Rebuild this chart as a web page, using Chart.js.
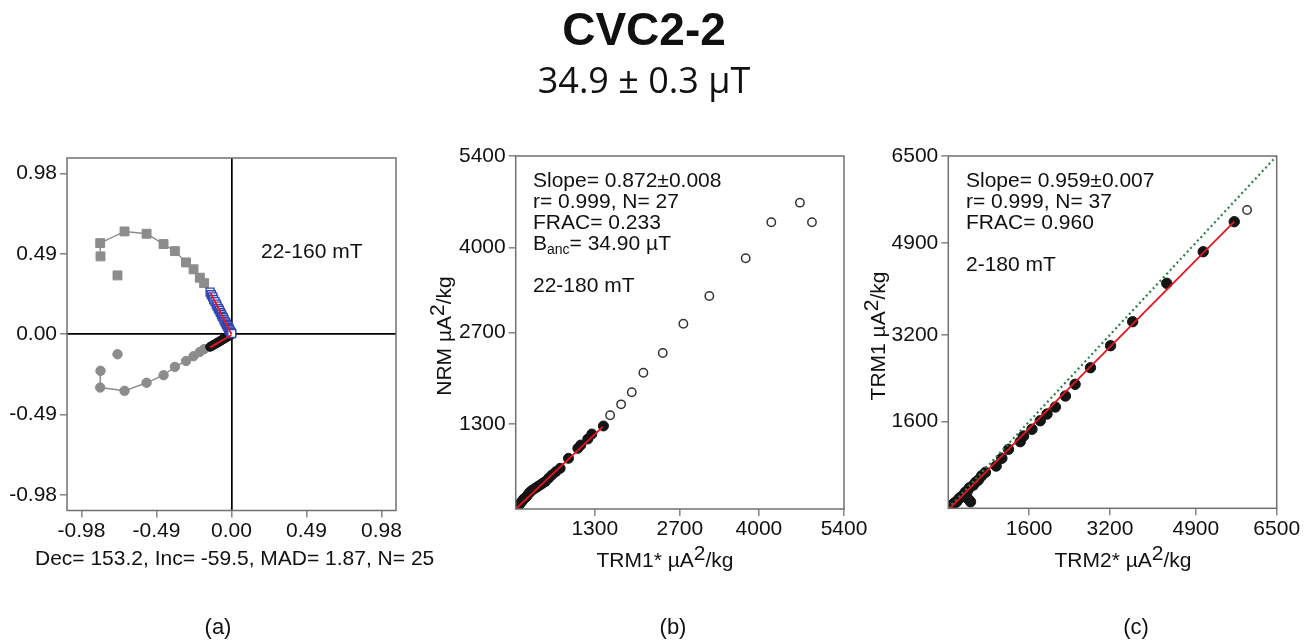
<!DOCTYPE html>
<html><head><meta charset="utf-8">
<script src="https://cdn.jsdelivr.net/npm/chart.js@4.4.1/dist/chart.umd.min.js"></script>
<style>
html,body{margin:0;padding:0;background:#fff;width:1308px;height:642px;overflow:hidden;}
canvas{position:absolute;left:0;top:0;}
</style></head><body>
<canvas id="ca" width="1308" height="642"></canvas>
<canvas id="cb" width="1308" height="642"></canvas>
<canvas id="cc" width="1308" height="642"></canvas>
<script>
// ---------- DATA ----------
// (a) Zijderveld: excluded steps (NRM first), then selected steps 22-160 mT
const exclX = [-0.745, -0.856, -0.858, -0.699, -0.555, -0.444, -0.370, -0.297, -0.248, -0.207, -0.179];
const exclH = [0.359, 0.475, 0.556, 0.627, 0.613, 0.550, 0.507, 0.438, 0.396, 0.345, 0.312];
const exclV = [-0.122, -0.223, -0.325, -0.345, -0.296, -0.250, -0.199, -0.163, -0.134, -0.108, -0.091];
const selX = [-0.140,-0.132,-0.123,-0.117,-0.108,-0.100,-0.094,-0.086,-0.079,-0.073,-0.066,-0.061,-0.054,-0.049,-0.043,-0.037,-0.032,-0.028,-0.022,-0.018,-0.014,-0.010,-0.006,-0.003,0.002];
const selH = [0.257,0.241,0.228,0.212,0.199,0.184,0.172,0.158,0.147,0.133,0.122,0.110,0.101,0.089,0.079,0.069,0.060,0.052,0.043,0.035,0.029,0.021,0.015,0.009,0.004];
const selV = [-0.077,-0.073,-0.068,-0.065,-0.060,-0.056,-0.052,-0.049,-0.044,-0.041,-0.037,-0.034,-0.030,-0.027,-0.024,-0.021,-0.018,-0.015,-0.012,-0.010,-0.008,-0.006,-0.004,-0.002,0.000];
const fitHX = [-0.137, 0.0], fitHY = [0.252, 0.0];
const fitVX = [-0.140, 0.0], fitVY = [-0.080, -0.005];
const zTicks = [-0.98, -0.49, 0, 0.49, 0.98];

// (b) NRM vs TRM1*
const bInX = [8, 22, 40, 58, 80, 105, 128, 155, 185, 212, 240, 275, 320, 360, 403, 445, 485, 540, 595, 660, 731, 868, 1022, 1071, 1186, 1252, 1443];
const bInY = [12, 30, 50, 66, 92, 118, 150, 170, 200, 232, 262, 290, 317, 342, 367, 395, 418, 470, 520, 570, 622, 775, 928, 979, 1071, 1147, 1270];
const bOutX = [1553, 1734, 1909, 2100, 2419, 2758, 3185, 3783, 4204, 4675, 4873];
const bOutY = [1433, 1601, 1785, 2085, 2386, 2835, 3258, 3835, 4386, 4686, 4386];
const bFitX = [0, 1430], bFitY = [0, 1255];
const bTicks = [1300, 2700, 4000, 5400];

// (c) TRM1 vs TRM2*
const cInX = [25, 45, 70, 110, 140, 167, 200, 235, 266, 300, 340, 371, 400, 420, 440, 497, 540, 596, 660, 735, 947, 1060, 1192, 1424, 1490, 1656, 1821, 1954, 2119, 2318, 2510, 2814, 3212, 3649, 4324, 5045, 5660];
const cInY = [15, 30, 55, 90, 110, 122, 165, 200, 214, 250, 300, 306, 165, 380, 120, 430, 480, 522, 600, 664, 780, 923, 1089, 1229, 1334, 1458, 1616, 1740, 1869, 2072, 2288, 2594, 3000, 3443, 4151, 4734, 5288];
const cOutX = [5913], cOutY = [5504];
const cFitX = [0, 5660], cFitY = [-30, 5290];
const cOneX = [0, 6500], cOneY = [0, 6500];
const cTicks = [1600, 3200, 4900, 6500];

// ---------- HELPERS ----------
const W = 1308, H = 642;
const FONT = "'Liberation Sans', Arial, sans-serif";
const pts = (xs, ys) => xs.map((x, i) => ({x, y: ys[i]}));

function drawRich(ctx, it) {
  ctx.save();
  ctx.translate(it.x, it.y);
  if (it.rot) ctx.rotate(it.rot);
  ctx.fillStyle = it.color || '#111';
  ctx.textBaseline = 'alphabetic';
  ctx.textAlign = 'left';
  let total = 0;
  const segs = it.segs.map(s => {
    const f = (s.bold ? 'bold ' : '') + s.size + 'px ' + (s.family || FONT);
    ctx.font = f;
    const w = ctx.measureText(s.t).width;
    total += w;
    return Object.assign({}, s, {f, w});
  });
  let x0 = it.align === 'center' ? -total / 2 : (it.align === 'right' ? -total : 0);
  segs.forEach(s => { ctx.font = s.f; ctx.fillText(s.t, x0, s.dy || 0); x0 += s.w; });
  ctx.restore();
}
const T = (t, size, extra) => Object.assign({t, size: size || 21}, extra || {});
function textPlugin(id, items) {
  return { id, afterDraw(chart) { items.forEach(it => drawRich(chart.ctx, it)); } };
}
const framePlugin = {
  id: 'frame',
  afterDatasetsDraw(chart) {
    const a = chart.chartArea, c = chart.ctx;
    c.save(); c.strokeStyle = '#707070'; c.lineWidth = 1.5;
    c.strokeRect(a.left, a.top, a.right - a.left, a.bottom - a.top);
    c.restore();
  }
};
function axis(r, t, fmt, dir, cross, size) {
  return {
    type: 'linear', min: r[0], max: r[1],
    afterBuildTicks: s => { s.ticks = t.map(v => ({value: v})); },
    afterFit: s => { if (dir === 'x') s.height = size; else s.width = size; },
    border: {display: false},
    grid: {
      drawOnChartArea: !!cross,
      color: c => (cross && c.tick && c.tick.value === 0) ? '#000' : 'rgba(0,0,0,0)',
      lineWidth: 1.7, drawTicks: true, tickLength: 7, tickColor: '#666', tickWidth: 1.2
    },
    ticks: {autoSkip: false, maxRotation: 0, minRotation: 0, padding: dir === 'x' ? 1 : 3,
      color: '#111', font: {family: FONT, size: 21}, callback: v => fmt(v)}
  };
}
function makeChart(id, cfg) {
  const YW = 70, XH = 40;
  const a = cfg.area;
  return new Chart(document.getElementById(id), {
    type: 'scatter',
    data: {datasets: cfg.datasets},
    options: {
      responsive: false, animation: false, devicePixelRatio: 1, events: [],
      layout: {padding: {left: a.l - YW, top: a.t, right: W - a.r, bottom: H - a.b - XH}},
      plugins: {legend: {display: false}, tooltip: {enabled: false}},
      scales: {
        x: axis(cfg.xr, cfg.xt, cfg.fmt, 'x', cfg.cross, XH),
        y: axis(cfg.yr, cfg.yt, cfg.fmt, 'y', cfg.cross, YW)
      }
    },
    plugins: [framePlugin, textPlugin(id + 'txt', cfg.texts)]
  });
}
const GRAY = '#8c8c8c';
const lineDS = (xs, ys, color, width, order, extra) => Object.assign({
  data: pts(xs, ys), showLine: true, pointRadius: 0, borderColor: color, borderWidth: width, order
}, extra || {});
const ptDS = (xs, ys, style, r, fill, stroke, bw, order) => ({
  data: pts(xs, ys), showLine: false, pointStyle: style, pointRadius: r,
  backgroundColor: fill, borderColor: stroke, pointBorderWidth: bw, order
});

// ---------- (a) ----------
const allX = exclX.concat(selX), allH = exclH.concat(selH), allV = exclV.concat(selV);
const hideFirst = {segment: {borderColor: c => c.p0DataIndex === 0 ? 'rgba(0,0,0,0)' : GRAY}};
makeChart('ca', {
  area: {l: 67, t: 158, r: 396, b: 510.5},
  xr: [-1.075, 1.075], yr: [-1.075, 1.075], xt: zTicks, yt: zTicks,
  fmt: v => v.toFixed(2), cross: true,
  datasets: [
    lineDS(fitHX, fitHY, '#e8141c', 1.8, 0),
    lineDS(fitVX, fitVY, '#e8141c', 1.8, 0),
    ptDS(selX, selH, 'rect', 5.6, '#ffffff', '#2f45b5', 1.4, 2),
    ptDS(selX, selV, 'circle', 4.4, '#151515', '#151515', 1, 2),
    ptDS(exclX, exclH, 'rect', 6.3, GRAY, GRAY, 1, 3),
    ptDS(exclX, exclV, 'circle', 4.7, GRAY, GRAY, 1, 3),
    lineDS(allX, allH, GRAY, 1.4, 5, hideFirst),
    lineDS(allX, allV, GRAY, 1.4, 5, hideFirst)
  ],
  texts: [
    {x: 644, y: 45, align: 'center', segs: [T('CVC2-2', 46, {bold: true})]},
    {x: 644, y: 93, align: 'center', segs: [T('34.9 ± 0.3 µT', 36, {family: "'Open Sans', sans-serif"})]},
    {x: 261, y: 258, segs: [T('22-160 mT')]},
    {x: 35, y: 565, segs: [T('Dec= 153.2, Inc= -59.5, MAD= 1.87, N= 25')]},
    {x: 218, y: 634, align: 'center', segs: [T('(a)', 22)]},
    {x: 673, y: 634, align: 'center', segs: [T('(b)', 22)]},
    {x: 1136, y: 634, align: 'center', segs: [T('(c)', 22)]}
  ]
});

// ---------- (b) ----------
makeChart('cb', {
  area: {l: 515.7, t: 156, r: 844, b: 509},
  xr: [0, 5400], yr: [0, 5400], xt: bTicks, yt: bTicks,
  fmt: v => String(Math.round(v)), cross: false,
  datasets: [
    lineDS(bFitX, bFitY, '#e8141c', 1.8, 0),
    ptDS(bInX, bInY, 'circle', 5, '#141414', '#141414', 1, 2),
    ptDS(bOutX, bOutY, 'circle', 4.2, '#ffffff', '#333333', 1.5, 2)
  ],
  texts: [
    {x: 533, y: 187, segs: [T('Slope= 0.872±0.008')]},
    {x: 533, y: 208, segs: [T('r= 0.999, N= 27')]},
    {x: 533, y: 229, segs: [T('FRAC= 0.233')]},
    {x: 533, y: 250, segs: [T('B'), T('anc', 14, {dy: 4}), T('= 34.90 µT')]},
    {x: 533, y: 292, segs: [T('22-180 mT')]},
    {x: 665, y: 567, align: 'center', segs: [T('TRM1* µA'), T('2', 21, {dy: -7}), T('/kg')]},
    {x: 451, y: 336, align: 'center', rot: -Math.PI / 2, segs: [T('NRM µA'), T('2', 21, {dy: -7}), T('/kg')]}
  ]
});

// ---------- (c) ----------
makeChart('cc', {
  area: {l: 948.3, t: 156, r: 1276.7, b: 508.3},
  xr: [0, 6500], yr: [0, 6500], xt: cTicks, yt: cTicks,
  fmt: v => String(Math.round(v)), cross: false,
  datasets: [
    lineDS(cFitX, cFitY, '#e8141c', 1.8, 0),
    lineDS(cOneX, cOneY, '#2e7d4a', 2.2, 1, {borderDash: [2, 3]}),
    ptDS(cInX, cInY, 'circle', 5.2, '#141414', '#141414', 1, 2),
    ptDS(cOutX, cOutY, 'circle', 4.2, '#ffffff', '#333333', 1.5, 2)
  ],
  texts: [
    {x: 966, y: 187, segs: [T('Slope= 0.959±0.007')]},
    {x: 966, y: 208, segs: [T('r= 0.999, N= 37')]},
    {x: 966, y: 229, segs: [T('FRAC= 0.960')]},
    {x: 966, y: 271, segs: [T('2-180 mT')]},
    {x: 1123, y: 567, align: 'center', segs: [T('TRM2* µA'), T('2', 21, {dy: -7}), T('/kg')]},
    {x: 885, y: 336, align: 'center', rot: -Math.PI / 2, segs: [T('TRM1 µA'), T('2', 21, {dy: -7}), T('/kg')]}
  ]
});
</script>
</body></html>
